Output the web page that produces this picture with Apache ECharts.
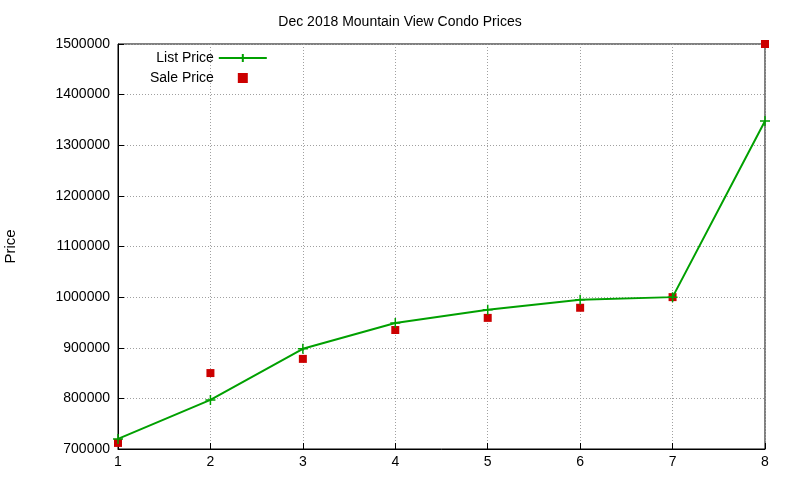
<!DOCTYPE html>
<html><head><meta charset="utf-8">
<script src="https://cdn.jsdelivr.net/npm/echarts@6/dist/echarts.min.js"></script>
<style>html,body{margin:0;padding:0;background:#fff}#c{width:800px;height:480px}</style>
</head><body><div id="c"></div>
<script>
const xs = [1,2,3,4,5,6,7,8];
const listPrice = [720000,797000,898000,949000,975000,995000,1000000,1348000];
const salePrice = [712000,850000,878000,935000,959000,979000,1000000,1500000];
const yTicks = [700000,800000,900000,1000000,1100000,1200000,1300000,1400000,1500000];
const font = 'Liberation Sans, Arial, sans-serif';
const chart = echarts.init(document.getElementById('c'));
const split = {show:true, lineStyle:{color:'#a0a0a0', type:[1,2], width:1}};
chart.setOption({
  animation:false,
  title:{text:'Dec 2018 Mountain View Condo Prices', left:'center', top:10,
    textStyle:{fontFamily:font, fontSize:14, fontWeight:'normal', color:'#000'}},
  grid:{left:118, right:35, top:44, bottom:31, show:true, borderColor:'#000', borderWidth:1,
    outerBoundsMode:'none', containLabel:false},
  legend:{orient:'vertical', left:145, top:46, align:'right', itemGap:6, itemWidth:48, itemHeight:10,
    textStyle:{fontFamily:font, fontSize:14, color:'#000'},
    data:[{name:'List Price'},
          {name:'Sale Price', icon:'path://M20,0H28V8H20Z', itemStyle:{color:'#cc0000'}}]},
  xAxis:{type:'value', min:1, max:8, interval:1,
    axisLine:{show:true, lineStyle:{color:'#000'}},
    axisTick:{inside:true, length:6, lineStyle:{color:'#000'}},
    axisLabel:{fontFamily:font, fontSize:14, color:'#000', margin:6},
    splitLine:split},
  yAxis:{type:'value', min:yTicks[0], max:yTicks[yTicks.length-1], interval:100000,
    name:'Price', nameLocation:'middle', nameGap:100,
    nameTextStyle:{fontFamily:font, fontSize:15, color:'#000'},
    axisLine:{show:true, lineStyle:{color:'#000'}},
    axisTick:{show:true, inside:true, length:6, lineStyle:{color:'#000'}},
    axisLabel:{fontFamily:font, fontSize:14, color:'#000', margin:8, formatter:v=>String(v)},
    splitLine:split},
  series:[
    {name:'List Price', type:'line', data:xs.map((x,i)=>[x,listPrice[i]]),
     symbol:'path://M-1,0H1M0,-1V1', symbolSize:10,
     itemStyle:{color:'#00a000', borderColor:'#00a000', borderWidth:1.5},
     lineStyle:{color:'#00a000', width:2}},
    {name:'Sale Price', type:'scatter', data:xs.map((x,i)=>[x,salePrice[i]]),
     symbol:'rect', symbolSize:8, itemStyle:{color:'#cc0000', opacity:1}}
  ]
});
</script></body></html>
